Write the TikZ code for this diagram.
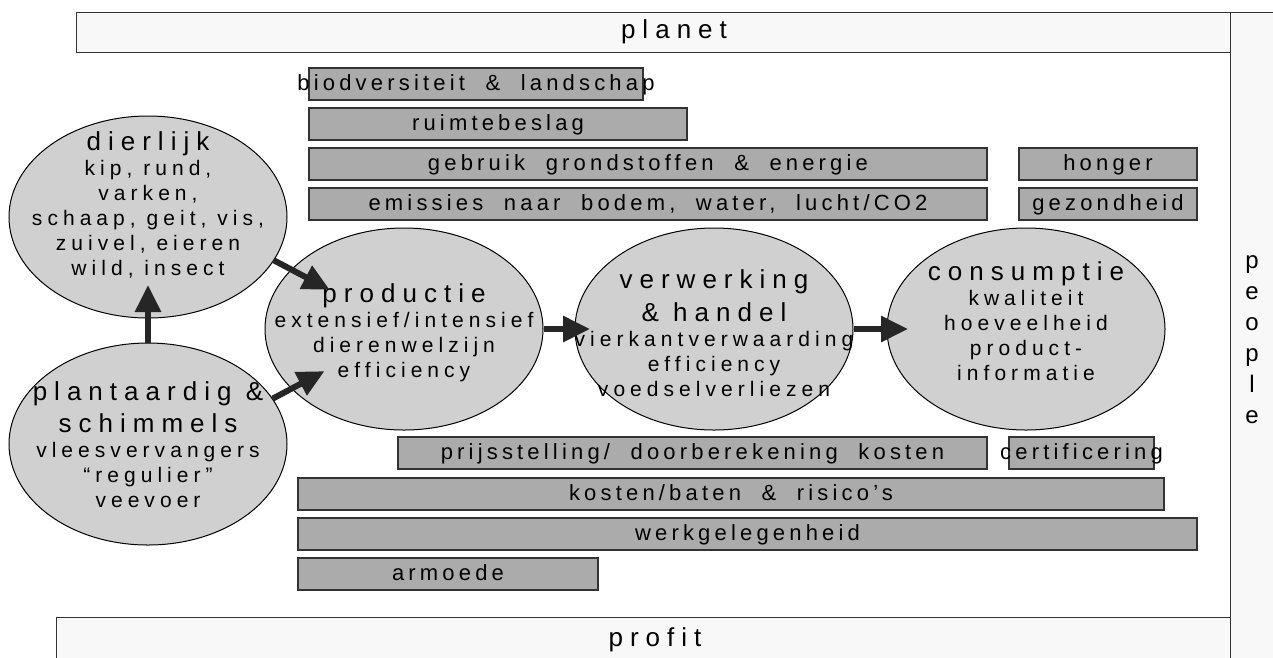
\documentclass[tikz,border=0pt]{standalone}
\usepackage{fontspec}
\setmainfont{Liberation Sans}[LetterSpace=24]
\newfontfamily\tfont{Liberation Sans}[LetterSpace=27]
\newfontfamily\bfont{Liberation Sans}[LetterSpace=24]
\newfontfamily\barfont{Liberation Sans}[LetterSpace=19, WordSpace=2]
\newfontfamily\plainfont{Liberation Sans}
\usetikzlibrary{shapes.geometric,arrows.meta}
\definecolor{barfill}{HTML}{ABABAB}
\definecolor{ellfill}{HTML}{D0D0D0}
\definecolor{framefill}{HTML}{F8F8F8}
\definecolor{edgecol}{HTML}{333333}
\definecolor{arrowcol}{HTML}{262626}
\newcommand\titlesz{\tfont\fontsize{26}{33}\selectfont}
\newcommand\bodysz{\bfont\fontsize{21}{25}\selectfont}
\newcommand\barsz{\barfont\fontsize{22}{25}\selectfont}
\tikzset{
  bar/.style={draw=edgecol, line width=1.3pt, fill=barfill, inner sep=0pt, font=\barsz, text height=16pt, text depth=4pt},
  ell/.style={ellipse, draw=black, line width=1pt, fill=ellfill, minimum width=278pt, minimum height=202pt, inner sep=0pt},
  txt/.style={align=center, font=\bodysz, inner sep=0pt},
  frame/.style={draw=edgecol, line width=1.3pt, fill=framefill},
  bigarrow/.style={draw=arrowcol, line width=6pt, -{Triangle[length=27pt,width=25pt]}}
}
\begin{document}
\begin{tikzpicture}[x=1pt,y=-1pt]
\useasboundingbox (0,0) rectangle (1273,657);
\clip (0,0) rectangle (1273,657);
% frames
\node[frame, minimum width=1154pt, minimum height=40pt, inner sep=0pt, anchor=north west] (planetbox) at (76,12) {};
\node[font=\titlesz] (planet) at (674,32) {planet};
\node[frame, minimum width=1174pt, minimum height=60pt, inner sep=0pt, anchor=north west] (profitbox) at (56,617) {};
\node[font=\titlesz] (profit) at (655,640) {profit};
\node[frame, minimum width=70pt, minimum height=680pt, inner sep=0pt, anchor=north west] (peoplebox) at (1230,12) {};
\node[font=\plainfont\fontsize{24}{31}\selectfont, align=center, inner sep=0pt] (people) at (1252,340) {p\\e\\o\\p\\l\\e};
% planet bars
\node[bar, minimum width=334pt, minimum height=32pt] (bio) at (476,84) {\makebox[0pt]{biodversiteit \& landschap}};
\node[bar, minimum width=378pt, minimum height=32pt] (ruimte) at (498,124) {ruimtebeslag};
\node[bar, minimum width=678pt, minimum height=32pt] (gebruik) at (648,164) {gebruik grondstoffen \& energie};
\node[bar, minimum width=678pt, minimum height=32pt] (emissies) at (648,204) {emissies naar bodem, water, lucht/CO2};
\node[bar, minimum width=178pt, minimum height=32pt] (honger) at (1108,164) {honger};
\node[bar, minimum width=178pt, minimum height=32pt] (gezond) at (1108,204) {\makebox[0pt]{gezondheid}};
% profit bars
\node[bar, minimum width=589pt, minimum height=32pt] (prijs) at (692.5,453) {prijsstelling/ doorberekening kosten};
\node[bar, minimum width=145pt, minimum height=32pt] (cert) at (1081.5,453) {\makebox[0pt]{certificering}};
\node[bar, minimum width=866pt, minimum height=32pt] (kosten) at (731,494) {kosten/baten \& risico’s};
\node[bar, minimum width=899pt, minimum height=32pt] (werk) at (747.5,534) {werkgelegenheid};
\node[bar, minimum width=300pt, minimum height=32pt] (armoede) at (448,574) {armoede};
% ellipses
\node[ell] (dierlijk) at (148,217) {};
\node[ell] (plantaardig) at (148,444) {};
\node[ell] (productie) at (404,329) {};
\node[ell] (verwerking) at (714,329) {};
\node[ell] (consumptie) at (1026,329) {};
% texts
\node[txt] (dtxt) at (148,205) {{\titlesz dierlijk}\\kip, rund,\\varken,\\schaap, geit, vis,\\zuivel, eieren\\wild, insect};
\node[txt] (ptxt) at (148,445) {{\titlesz plantaardig \&}\\[7pt]{\titlesz schimmels}\\vleesvervangers\\“regulier”\\veevoer};
\node[txt] (prtxt) at (404,333) {{\titlesz productie}\\extensief/intensief\\dierenwelzijn\\efficiency};
\node[txt] (vtxt) at (714,333) {{\titlesz verwerking}\\[8pt]{\titlesz \& handel}\\vierkantverwaarding\\efficiency\\voedselverliezen};
\node[txt] (ctxt) at (1026,321) {{\titlesz consumptie}\\kwaliteit\\hoeveelheid\\product-\\informatie};
% arrows
\draw[bigarrow, shorten >=84pt] (dierlijk.-19.5) -- (productie.center);
\draw[bigarrow, shorten >=90pt] (plantaardig.20) -- (productie.center);
\draw[bigarrow, shorten >=68pt] (plantaardig.north) -- (dierlijk.center);
\draw[bigarrow, shorten >=124pt] (productie.east) -- (verwerking.center);
\draw[bigarrow, shorten >=118pt] (verwerking.east) -- (consumptie.center);
\end{tikzpicture}
\end{document}
